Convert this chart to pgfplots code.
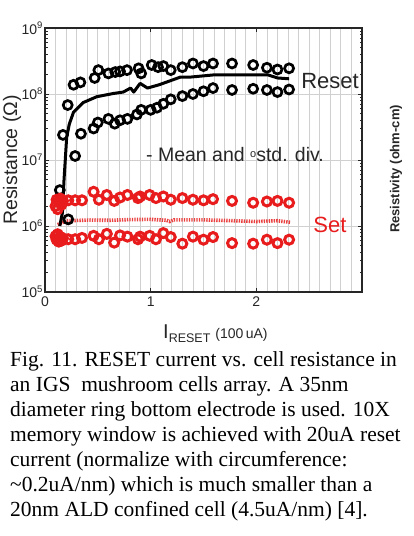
\documentclass[border=0pt]{standalone}
\usepackage{fontspec}
\setmainfont{Liberation Serif}
\newfontfamily\arial{Liberation Sans}
\usepackage{pgfplots}
\pgfplotsset{compat=1.18}
\definecolor{setred}{RGB}{232,28,28}
\definecolor{gridgray}{RGB}{208,208,208}
\newcommand\ylab[1]{10\raisebox{5.5bp}{\fontsize{9.5bp}{9.5bp}\selectfont #1}}
\begin{document}
\begin{tikzpicture}
\path[use as bounding box] (-45bp,-244bp) rectangle (369bp,292bp);
\begin{axis}[
  at={(0bp,0bp)}, anchor=south west,
  scale only axis, width=317bp, height=264bp,
  xmin=0, xmax=3, ymin=1e5, ymax=1e9, ymode=log,
  xtick={0,1,2,3}, xticklabels={0,1,2,{}},
  minor xtick={0.1,0.2,0.3,0.4,0.5,0.6,0.7,0.8,0.9,1.1,1.2,1.3,1.4,1.5,1.6,1.7,1.8,1.9,2.1,2.2,2.3,2.4,2.5,2.6,2.7,2.8,2.9},
  minor x tick style={draw=none},
  ytick={1e5,1e6,1e7,1e8,1e9},
  yticklabels={\ylab{5},\ylab{6},\ylab{7},\ylab{8},\ylab{9}},
  xminorgrids, xmajorgrids, ymajorgrids,
  grid style={gridgray, line width=0.8bp},
  minor grid style={gridgray, line width=0.8bp},
  axis line style={line width=1.3bp, black!85},
  tick style={black!85, line width=0.8bp},
  major tick length=4bp, minor tick length=2.5bp,
  tick label style={font=\arial\fontsize{14bp}{14bp}\selectfont, black!85},
  xticklabel style={yshift=-1bp},
  yticklabel style={xshift=1bp},
  clip=false,
]
% red mean (dotted)
\addplot[setred!85, line width=3.6bp, dash pattern=on 1.4bp off 1.1bp] coordinates {
(0.12,1.05e6) (0.15,1.1e6) (0.2,1.2e6) (0.4,1.23e6) (0.6,1.22e6) (0.8,1.25e6) (1.0,1.26e6) (1.15,1.22e6) (1.18,1.17e6) (1.22,1.24e6) (1.5,1.24e6) (1.8,1.2e6) (2.0,1.17e6) (2.2,1.2e6) (2.32,1.14e6)};
% reset upper
\addplot[only marks, mark=o, mark size=4.5bp, line width=2.7bp, black] coordinates {
(0.14,3.5e6) (0.17,2.4e7) (0.215,6.8e7) (0.27,1.38e8) (0.335,1.5e8) (0.47,1.75e8) (0.505,2.3e8) (0.60,2.05e8) (0.665,2.15e8) (0.71,2.2e8) (0.776,2.3e8) (0.886,2.45e8) (0.91,2.05e8) (1.01,2.75e8) (1.07,2.55e8) (1.12,2.65e8) (1.19,2.3e8) (1.30,2.55e8) (1.40,2.9e8) (1.50,2.65e8) (1.59,2.9e8) (1.77,2.9e8) (1.97,2.75e8) (2.10,2.5e8) (2.20,2.35e8) (2.31,2.45e8)};
% reset lower
\addplot[only marks, mark=o, mark size=4.5bp, line width=2.7bp, black] coordinates {
(0.22,1.26e6) (0.285,1.15e7) (0.34,2.5e7) (0.46,3.0e7) (0.50,3.7e7) (0.60,4.2e7) (0.66,3.55e7) (0.71,4.0e7) (0.78,4.2e7) (0.87,4.9e7) (0.91,5.75e7) (1.00,5.75e7) (1.06,6.2e7) (1.12,7.1e7) (1.19,8.3e7) (1.30,9.3e7) (1.40,1.0e8) (1.50,1.1e8) (1.59,1.23e8) (1.77,1.15e8) (1.97,1.2e8) (2.10,1.15e8) (2.20,1.07e8) (2.31,1.17e8)};
% set upper
\addplot[only marks, mark=o, mark size=4.5bp, line width=3bp, setred] coordinates {
(0.10,2.0e6) (0.11,2.5e6) (0.12,1.8e6) (0.13,2.3e6) (0.145,2.6e6) (0.155,2.1e6) (0.17,2.4e6)
(0.22,2.45e6) (0.285,2.45e6) (0.35,2.45e6) (0.46,3.3e6) (0.51,2.5e6) (0.585,2.95e6) (0.655,2.4e6) (0.71,2.7e6) (0.78,2.95e6) (0.88,2.65e6) (0.90,2.8e6) (0.99,2.95e6) (1.05,2.65e6) (1.12,2.8e6) (1.19,2.5e6) (1.30,2.65e6) (1.40,2.5e6) (1.50,2.45e6) (1.59,2.55e6) (1.77,2.4e6) (1.97,2.25e6) (2.10,2.35e6) (2.20,2.4e6) (2.31,2.25e6)};
% set lower
\addplot[only marks, mark=o, mark size=4.5bp, line width=3bp, setred] coordinates {
(0.10,7.0e5) (0.11,6.2e5) (0.12,7.5e5) (0.13,5.8e5) (0.145,6.8e5) (0.155,6.0e5) (0.17,6.5e5)
(0.22,6.3e5) (0.285,6.3e5) (0.35,6.6e5) (0.46,7.1e5) (0.51,6.3e5) (0.585,7.6e5) (0.655,5.6e5) (0.71,7.2e5) (0.78,6.9e5) (0.88,6.3e5) (0.90,6.9e5) (0.99,7.1e5) (1.05,6.3e5) (1.12,7.8e5) (1.19,6.8e5) (1.30,5.4e5) (1.40,6.9e5) (1.50,6.2e5) (1.59,6.8e5) (1.77,5.5e5) (1.97,5.4e5) (2.10,6.2e5) (2.20,5.5e5) (2.31,6.2e5)};
% reset mean
\addplot[black, line width=3bp, line join=round] coordinates {
(0.14,1.0e6) (0.165,1.6e6) (0.18,5e6) (0.19,9e6) (0.205,2.2e7) (0.23,3.5e7) (0.27,5.3e7) (0.36,7.4e7) (0.49,9.1e7) (0.65,1.02e8) (0.74,1.07e8) (0.81,1.23e8) (0.84,1.07e8) (0.90,1.45e8) (0.97,1.23e8) (1.08,1.38e8) (1.28,1.8e8) (1.37,1.8e8) (1.60,1.95e8) (2.11,1.95e8) (2.20,1.75e8) (2.31,1.7e8)};
\end{axis}
\begin{scope}[every node/.style={inner sep=0pt}]
\node[font=\arial\fontsize{22bp}{22bp}\selectfont, black!85] at (285bp,211bp) {Reset};
\node[font=\arial\fontsize{22bp}{22bp}\selectfont, setred] at (285bp,67bp) {Set};
\node[font=\arial\fontsize{19.5bp}{19.5bp}\selectfont, black!85] at (190bp,137bp) {- Mean and \raisebox{4bp}{\fontsize{11bp}{11bp}\selectfont o}std. div.};
\node[font=\arial\fontsize{19.5bp}{19.5bp}\selectfont, black!85, rotate=90] at (-33bp,132bp) {Resistance (Ω)};
\node[font=\arial\bfseries\fontsize{13bp}{13bp}\selectfont, black!85, rotate=90] at (351bp,123bp) {Resistivity (ohm-cm)};
\node[anchor=base west, font=\arial, black!85] at (118bp,-46bp) {{\fontsize{20bp}{20bp}\selectfont I}\raisebox{-4bp}{\fontsize{12.5bp}{12.5bp}\selectfont RESET}\hspace{5bp}{\fontsize{14bp}{14bp}\selectfont (100\,uA)}};
\end{scope}
\begin{scope}[every node/.style={inner sep=0pt, anchor=base west, font=\fontsize{21.5bp}{24bp}\selectfont}]
\node at (-35bp,-74bp) {Fig. 11. RESET current vs. cell resistance in};
\node at (-35bp,-99bp) {an IGS\ \ mushroom cells array. A 35nm};
\node at (-35bp,-124bp) {diameter ring bottom electrode is used. 10X};
\node at (-35bp,-149bp) {memory window is achieved with 20uA reset};
\node at (-35bp,-174bp) {current (normalize with circumference:};
\node at (-35bp,-199bp) {\textasciitilde0.2uA/nm) which is much smaller than a};
\node at (-35bp,-224bp) {20nm ALD confined cell (4.5uA/nm) [4].};
\end{scope}
\end{tikzpicture}
\end{document}
